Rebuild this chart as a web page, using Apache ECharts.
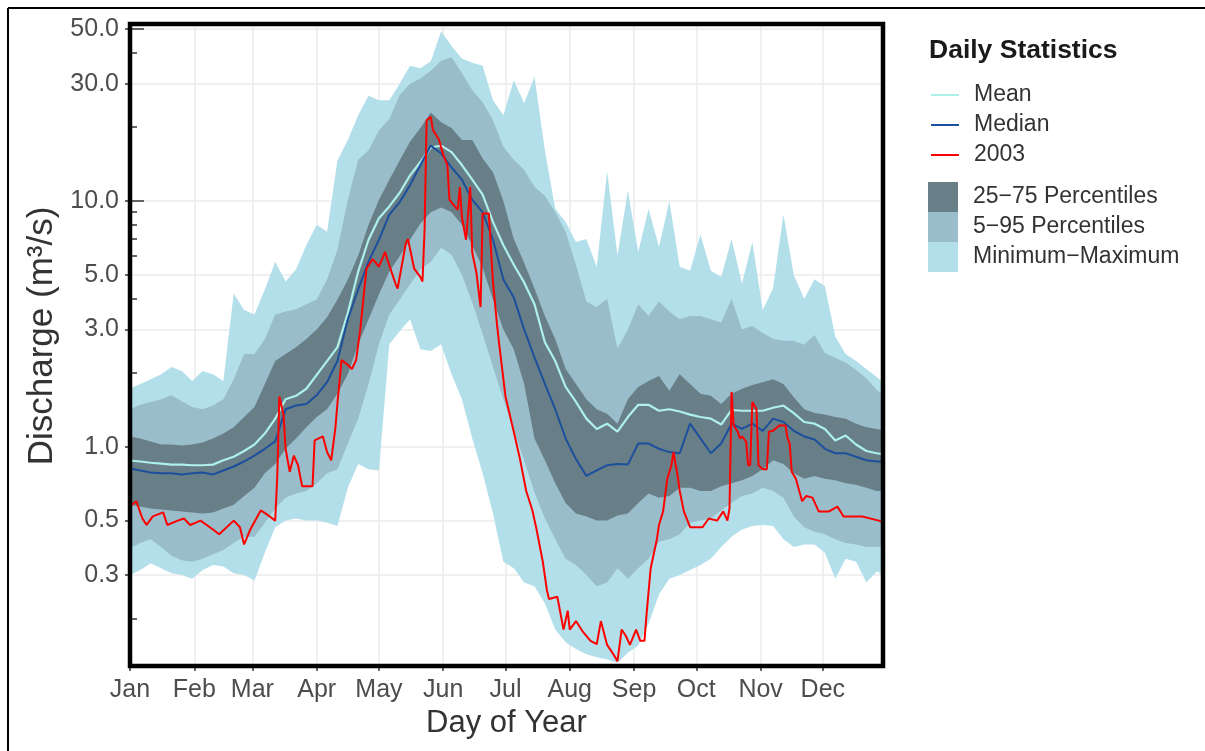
<!DOCTYPE html>
<html><head><meta charset="utf-8">
<script src="https://cdn.jsdelivr.net/npm/echarts@6/dist/echarts.min.js"></script>
<style>html,body{margin:0;padding:0;background:#fff}#c{width:1205px;height:751px}</style>
</head><body><div id="c"></div>
<script>
// ---------- data (day of year, discharge m3/s) ----------
const days = [1,6,11,16,21,26,31,36,41,46,51,56,61,66,71,76,81,86,91,96,101,106,111,116,121,126,131,136,141,146,151,156,161,166,171,176,181,186,191,196,201,206,211,216,221,226,231,236,241,246,251,256,261,266,271,276,281,286,291,296,301,306,311,316,321,326,331,336,341,346,351,356,361,365];

const flowMax = [1.73,1.80,1.88,1.97,2.11,2.03,1.85,2.03,1.97,1.85,
  4.2,3.6,3.45,4.36,5.66,4.7,5.26,6.6,8.0,7.5,
  14.6,17.7,22.3,26.8,25.7,25.7,30,35.5,34.7,37,
  49,42.7,38,36.5,35.5,25.7,22.3,31,25,32,
  16.1,9.3,8.2,6.8,7.0,5.4,13.2,6.0,11,6.2,
  9.3,6.5,10,5.4,5.2,7.3,5.2,4.9,7.0,4.6,
  6.8,3.6,4.4,8.8,5.0,4.0,4.8,4.5,2.8,2.38,
  2.23,2.07,1.92,1.80];

const flowP95 = [1.42,1.48,1.52,1.56,1.62,1.53,1.45,1.42,1.47,1.56,
  1.88,2.38,2.38,2.74,3.45,3.55,3.62,3.8,3.97,4.79,
  6.33,10.1,14.7,16.1,19.4,21.5,27,30,31.5,33.9,
  37.2,38.4,33.2,28.2,25.2,21.3,16.6,14.7,13.4,11.4,
  10.5,9.0,7.5,5.5,3.9,3.7,4.0,2.5,3.0,3.8,
  3.4,3.9,3.55,3.3,3.4,3.4,3.3,3.2,4.0,3.0,
  3.1,2.9,2.75,2.7,2.7,2.6,2.85,2.4,2.3,2.2,
  2.05,1.9,1.7,1.6];

const flowP75 = [1.10,1.08,1.05,1.02,1.02,1.01,1.02,1.04,1.08,1.13,
  1.20,1.32,1.45,1.80,2.23,2.38,2.54,2.74,3.0,3.36,
  3.97,4.79,6.0,8.0,10.1,12.2,14.6,17.4,19.8,22.9,
  20.9,19.8,17.7,17.7,14.9,13.1,10.0,7.0,5.6,4.4,
  3.4,2.74,2.07,1.80,1.56,1.42,1.36,1.24,1.56,1.75,
  1.85,1.94,1.69,1.97,1.80,1.64,1.61,1.49,1.64,1.72,
  1.78,1.83,1.88,1.80,1.59,1.42,1.37,1.35,1.32,1.30,
  1.24,1.20,1.18,1.16];

const flowMean = [0.878,0.87,0.86,0.853,0.845,0.845,0.84,0.84,0.845,0.88,
  0.91,0.96,1.02,1.13,1.30,1.56,1.61,1.72,1.96,2.23,
  2.54,3.5,5.16,6.95,8.5,9.5,10.8,12.7,14.4,16.5,
  16.8,15.8,14.0,12.2,10.6,8.2,6.6,5.5,4.66,3.8,
  2.66,2.23,1.75,1.52,1.30,1.18,1.24,1.15,1.32,1.48,
  1.48,1.40,1.42,1.39,1.35,1.32,1.30,1.23,1.41,1.40,
  1.40,1.40,1.44,1.47,1.37,1.26,1.24,1.18,1.06,1.11,
  1.02,0.96,0.94,0.93];

const flowMedian = [0.815,0.80,0.785,0.78,0.78,0.77,0.78,0.785,0.77,0.80,
  0.83,0.87,0.92,0.98,1.05,1.42,1.47,1.49,1.62,1.83,
  2.23,3.3,4.36,5.66,6.95,8.8,9.9,11.6,14.0,16.8,
  15.6,13.7,12.2,10.1,9.0,6.95,4.79,4.05,3.0,2.31,
  1.80,1.42,1.08,0.89,0.76,0.80,0.84,0.85,0.845,1.03,
  1.03,0.98,0.95,0.94,1.24,1.08,0.94,1.03,1.24,1.18,
  1.24,1.16,1.30,1.26,1.16,1.10,1.07,0.98,0.94,0.94,
  0.91,0.88,0.87,0.87];

const flowP25 = [0.58,0.57,0.56,0.555,0.55,0.545,0.54,0.535,0.54,0.56,
  0.58,0.63,0.68,0.78,0.85,0.98,1.08,1.20,1.32,1.42,
  1.64,1.97,2.61,3.3,4.16,5.16,5.95,6.95,8.1,9.0,
  9.4,9.0,8.0,6.6,5.35,3.97,3.0,2.49,1.80,1.08,
  0.88,0.71,0.59,0.535,0.52,0.50,0.50,0.525,0.535,0.59,
  0.645,0.62,0.63,0.68,0.68,0.66,0.66,0.69,0.71,0.73,
  0.76,0.81,0.88,0.85,0.78,0.74,0.76,0.74,0.73,0.71,
  0.70,0.68,0.66,0.66];

const flowP05 = [0.386,0.405,0.42,0.39,0.36,0.345,0.34,0.35,0.365,0.38,
  0.405,0.43,0.43,0.49,0.56,0.62,0.645,0.66,0.71,0.78,
  0.81,1.03,1.30,1.80,2.61,3.45,3.97,4.57,5.26,5.66,
  6.45,6.04,5.0,3.86,2.87,2.11,1.56,1.16,0.88,0.65,
  0.51,0.42,0.35,0.33,0.30,0.27,0.28,0.32,0.29,0.32,
  0.35,0.41,0.42,0.44,0.49,0.50,0.51,0.55,0.59,0.63,
  0.645,0.68,0.66,0.62,0.52,0.47,0.45,0.44,0.42,0.405,
  0.40,0.39,0.39,0.39];

const flowMin = [0.30,0.315,0.335,0.32,0.305,0.30,0.29,0.315,0.33,0.325,
  0.305,0.30,0.285,0.37,0.47,0.50,0.51,0.50,0.50,0.49,
  0.475,0.68,0.85,0.81,0.80,2.61,2.95,3.3,2.49,2.45,
  2.61,1.97,1.56,1.08,0.78,0.535,0.34,0.32,0.28,0.27,
  0.23,0.18,0.16,0.15,0.143,0.139,0.136,0.132,0.145,0.155,
  0.19,0.25,0.29,0.30,0.315,0.33,0.35,0.39,0.43,0.46,
  0.475,0.48,0.475,0.42,0.39,0.40,0.40,0.37,0.29,0.35,
  0.34,0.28,0.31,0.30];

const days2003 = [1,4,7,9,12,17,19,24,27,30,35,41,44,51,54,56,59,64,67,71,72,73,75,76,78,80,82,84,89,90,
  94,96,98,100,101,103,106,108,110,112,115,118,121,124,125,129,130,134,135,138,141,142,143,144,146,147,150,152,154,155,
  159,160,161,163,165,166,168,170,171,174,176,178,179,182,186,189,192,195,197,200,202,203,207,210,212,213,216,219,223,226,
  228,231,234,236,238,240,242,245,247,249,250,252,255,256,258,260,262,263,265,266,268,271,277,280,284,287,289,290,291,292,
  294,295,296,298,299,300,301,303,304,306,308,309,311,314,317,318,319,320,322,325,327,330,333,338,342,345,354,362,365];
const flow2003 = [0.57,0.60,0.51,0.48,0.52,0.54,0.48,0.50,0.51,0.48,0.50,0.46,0.44,0.50,0.47,0.40,0.46,0.55,0.53,0.50,0.76,1.60,1.35,0.98,0.79,0.92,0.84,0.69,0.69,1.06,
  1.10,0.95,0.88,1.19,1.50,2.25,2.15,2.07,2.25,3.0,5.3,5.8,5.4,6.2,5.8,4.6,4.4,6.75,7.0,5.3,4.9,4.7,7.6,21.3,22.0,19.5,17.7,15.4,14.0,10.1,
  9.2,11.4,8.6,6.95,11.4,6.15,5.1,3.7,8.9,8.9,4.65,3.1,2.6,1.6,1.15,0.89,0.66,0.55,0.46,0.34,0.26,0.24,0.245,0.18,0.215,0.18,0.195,0.178,0.162,0.157,
  0.195,0.156,0.143,0.134,0.18,0.17,0.156,0.18,0.162,0.162,0.207,0.32,0.42,0.48,0.545,0.74,0.84,0.95,0.76,0.66,0.545,0.47,0.47,0.51,0.50,0.545,0.50,0.56,1.67,1.22,
  1.15,1.08,1.10,1.05,0.84,0.84,1.52,1.42,0.84,0.81,0.81,1.15,1.16,1.22,1.22,1.08,1.03,0.79,0.74,0.60,0.63,0.62,0.545,0.545,0.57,0.52,0.52,0.50,0.49];

const monthStarts = [1,32,60,91,121,152,182,213,244,274,305,335];
const monthLabels = ['Jan','Feb','Mar','Apr','May','Jun','Jul','Aug','Sep','Oct','Nov','Dec'];
const yMajorTicks = [0.3,0.5,1,3,5,10,30,50];
const yMinorTicks = [0.2,0.4,0.6,0.7,0.8,0.9,2,4,6,7,8,9,20,40];
const yLongTicks = [1,10,50];

// ---------- chart ----------
const FONT = 'Liberation Sans, Arial, sans-serif';
const Y_MIN = 0.128, Y_MAX = 52.5;
const colMinMax = '#b3dfeb', col595 = '#99bdca', col2575 = '#687f88';
const colMean = '#aef0ea', colMedian = '#1c4f9c', col2003 = '#ff0000';

function band(name, lower, upper, color) {
  return {
    type: 'custom', name: name, coordinateSystem: 'cartesian2d',
    itemStyle: {color: color}, clip: true, silent: true,
    encode: {x: 0, y: [1, 2]},
    data: days.map((d, i) => [d, lower[i], upper[i]]),
    renderItem: function (params, api) {
      if (params.dataIndex !== 0) return null;
      const pts = [];
      for (let i = 0; i < days.length; i++) pts.push(api.coord([days[i], upper[i]]));
      for (let i = days.length - 1; i >= 0; i--) pts.push(api.coord([days[i], lower[i]]));
      return {type: 'polygon', shape: {points: pts}, style: {fill: color}};
    }
  };
}
function line(name, xs, ys, color, width) {
  return {
    type: 'line', name: name, data: xs.map((d, i) => [d, ys[i]]),
    symbol: 'none', showSymbol: false, silent: true,
    lineStyle: {color: color, width: width}, itemStyle: {color: color}
  };
}

const yBase = {type: 'log', logBase: 10, min: Y_MIN, max: Y_MAX, position: 'left', axisLine: {show: false}};
const legendText = {fontFamily: FONT, fontSize: 23, color: '#333', lineHeight: 30, padding: [0, 0, 0, 10]};
const chart = echarts.init(document.getElementById('c'), null, {renderer: 'canvas'});
chart.setOption({
  animation: false,
  backgroundColor: '#ffffff',
  grid: {left: 130, right: 322, top: 24, bottom: 85, containLabel: false},
  title: {text: 'Daily Statistics', left: 929, top: 37, padding: 0,
    textStyle: {fontFamily: FONT, fontSize: 26.5, fontWeight: 'bold', color: '#1a1a1a'}},
  legend: [
    {orient: 'vertical', left: 930, top: 80, padding: 0, itemWidth: 28, itemHeight: 30, itemGap: 0, selectedMode: false,
      itemStyle: {opacity: 0},
      data: ['Mean', 'Median', '2003'], textStyle: legendText},
    {orient: 'vertical', left: 928, top: 182, padding: 0, itemWidth: 30, itemHeight: 30, itemGap: 0, selectedMode: false,
      data: [{name: '25−75 Percentiles', icon: 'rect'}, {name: '5−95 Percentiles', icon: 'rect'}, {name: 'Minimum−Maximum', icon: 'rect'}],
      textStyle: legendText}
  ],
  xAxis: {
    type: 'value', min: 1, max: 364,
    axisLine: {show: false},
    axisTick: {show: true, customValues: monthStarts, length: 5, lineStyle: {color: '#333', width: 1.5}},
    axisLabel: {customValues: monthStarts, formatter: v => monthLabels[monthStarts.indexOf(v)],
      fontFamily: FONT, fontSize: 25, color: '#4d4d4d', margin: 12},
    splitLine: {show: true, lineStyle: {color: '#ebebeb', width: 1.5}},
    name: 'Day of Year', nameLocation: 'middle', nameGap: 41,
    nameTextStyle: {fontFamily: FONT, fontSize: 31, color: '#333'}
  },
  yAxis: [
    Object.assign({}, yBase, {
      axisTick: {show: true, customValues: yMajorTicks, length: 5, lineStyle: {color: '#333', width: 1.5}},
      axisLabel: {customValues: yMajorTicks, formatter: v => Number(v).toFixed(1),
        fontFamily: FONT, fontSize: 25, color: '#4d4d4d', margin: 11},
      splitLine: {show: true, lineStyle: {color: '#ebebeb', width: 1.5}},
      name: 'Discharge (m³/s)', nameLocation: 'middle', nameGap: 66, nameRotate: 90,
      nameTextStyle: {fontFamily: FONT, fontSize: 35, color: '#333', padding: [0, 0, 0, 18]}
    }),
    Object.assign({}, yBase, {
      axisTick: {show: true, inside: true, customValues: yMinorTicks, length: 7, lineStyle: {color: '#333', width: 1.5}},
      axisLabel: {show: false}, splitLine: {show: false}
    }),
    Object.assign({}, yBase, {
      axisTick: {show: true, inside: true, customValues: yLongTicks, length: 14, lineStyle: {color: '#333', width: 1.5}},
      axisLabel: {show: false}, splitLine: {show: false}
    })
  ],
  series: [
    band('Minimum−Maximum', flowMin, flowMax, colMinMax),
    band('5−95 Percentiles', flowP05, flowP95, col595),
    band('25−75 Percentiles', flowP25, flowP75, col2575),
    line('Mean', days, flowMean, colMean, 2.2),
    line('Median', days, flowMedian, colMedian, 2),
    line('2003', days2003, flow2003, col2003, 2)
  ],
  graphic: [
    {type: 'rect', z: 100, silent: true, shape: {x: 130, y: 24, width: 753, height: 642},
      style: {fill: 'none', stroke: '#000', lineWidth: 4.5}},
    {type: 'line', z: 100, silent: true, shape: {x1: 8, y1: 8, x2: 1205, y2: 8}, style: {stroke: '#000', lineWidth: 2}},
    {type: 'line', z: 100, silent: true, shape: {x1: 8, y1: 8, x2: 8, y2: 751}, style: {stroke: '#000', lineWidth: 2}}
  ]
});
</script></body></html>
